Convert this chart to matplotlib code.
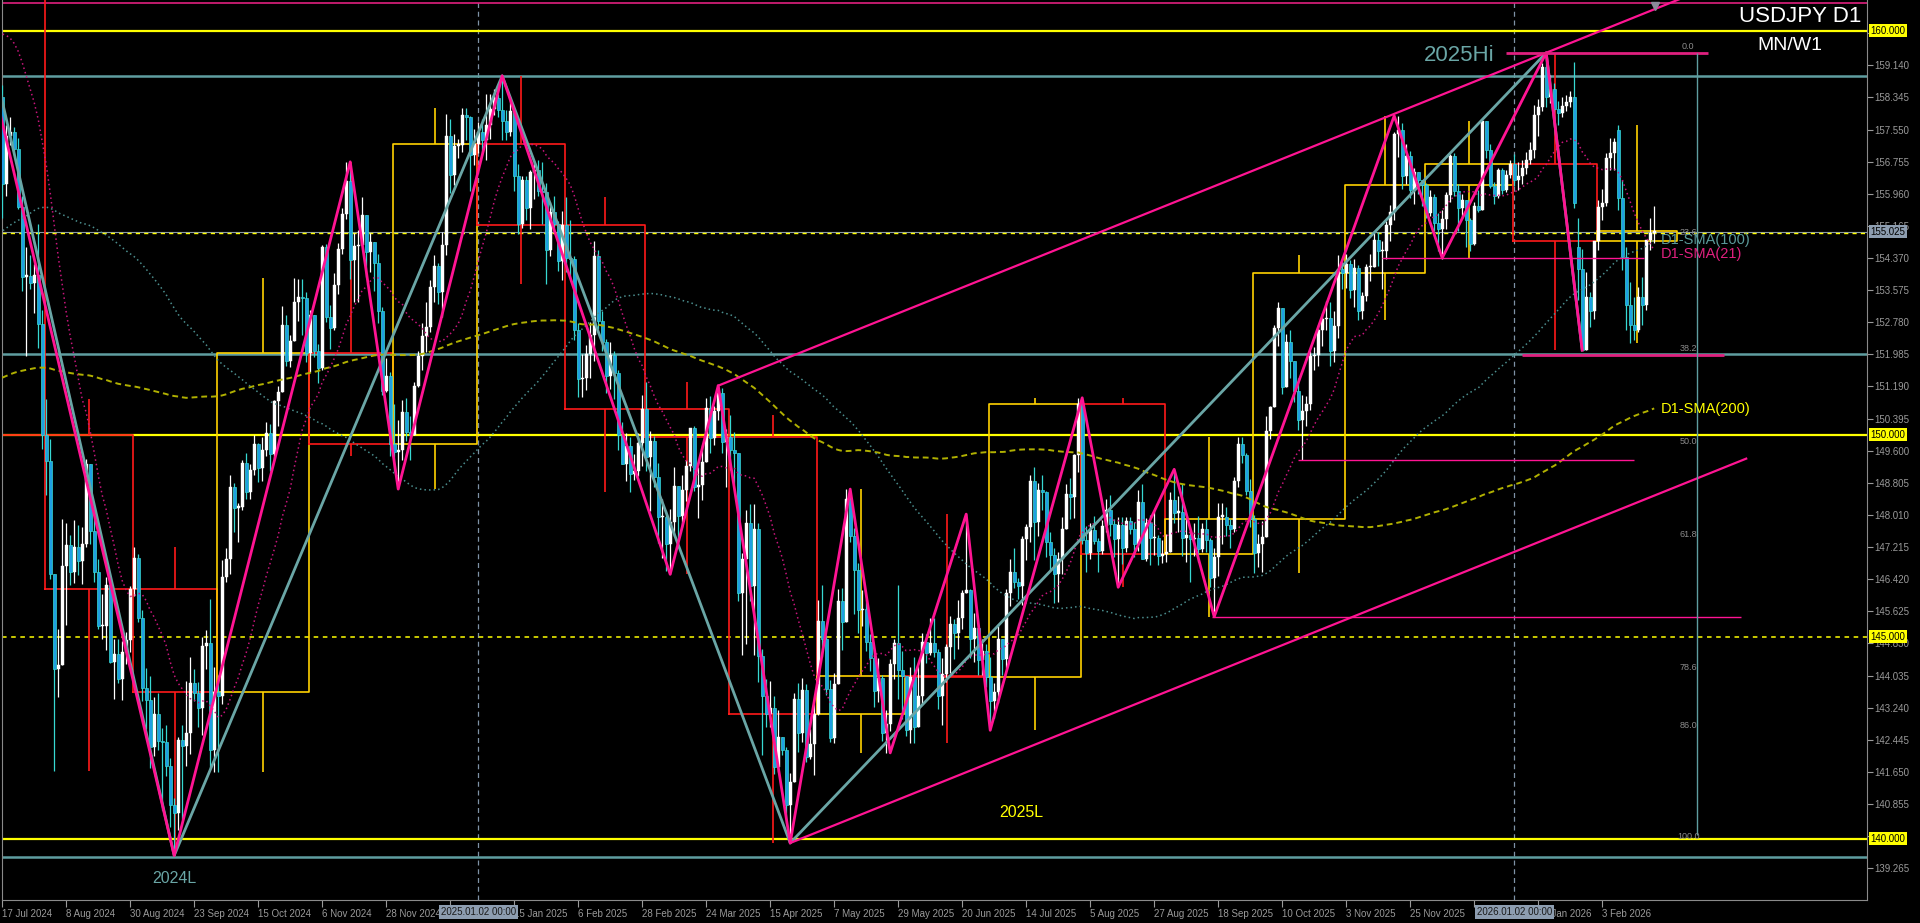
import numpy as np
import pandas as pd
import matplotlib
matplotlib.use("Agg")
import matplotlib.pyplot as plt
import matplotlib.transforms as mtransforms

plt.rcParams['font.family'] = ['Liberation Sans', 'DejaVu Sans']

# daily closes 10 Oct 2023 - 28 Jun 2024, only used to seed the moving averages
pre_close = [
    148.74, 149.13, 149.81, 149.57, 149.51, 149.80, 149.84, 149.88, 149.86, 149.71, 149.89, 150.20, 150.38, 149.57, 149.15, 151.68,
    150.95, 150.42, 149.39, 150.05, 150.38, 150.89, 151.32, 151.51, 151.70, 150.38, 151.36, 150.73, 149.61, 148.34, 148.37, 149.56, 149.57, 149.44, 148.66, 147.45, 147.21, 148.18,
    146.80, 147.19, 147.14, 147.29, 144.13, 144.94, 145.92, 145.38, 142.91, 141.88, 142.17, 142.82, 143.78, 143.54, 142.11, 142.42, 142.42, 141.41, 141.05, 141.02,
    142.00, 143.31, 144.61, 144.60, 144.25, 144.44, 145.73, 145.30, 144.91, 145.12, 147.19, 148.12, 148.14, 148.13, 148.10, 147.96, 147.46, 147.61, 148.12, 147.52, 147.63, 146.91,
    146.43, 148.37, 148.70, 147.93, 148.17, 149.33, 149.28, 149.34, 150.78, 150.57, 149.93, 150.21, 150.14, 150.01, 150.30, 150.50, 150.51, 150.70, 150.53, 150.67, 149.95,
    150.10, 150.51, 149.99, 149.39, 147.86, 147.05, 146.98, 147.69, 147.76, 148.31, 149.05, 149.14, 150.86, 151.27, 151.32, 151.45, 151.34, 151.57, 151.32, 151.30, 151.35,
    151.62, 151.56, 151.71, 151.34, 151.63, 151.86, 151.77, 153.15, 153.25, 153.27, 154.27, 154.60, 154.33, 154.63, 154.62, 154.80, 154.84, 155.35, 155.65, 158.34, 156.37, 157.80,
    155.02, 153.00, 152.97, 153.93, 154.63, 155.51, 155.48, 155.78, 156.22, 156.48, 154.91, 155.41, 155.67, 155.68, 156.24, 156.82, 156.96, 156.99, 156.88, 157.21, 157.61, 156.90, 157.31,
    156.05, 154.11, 155.74, 155.61, 156.75, 157.04, 157.21, 156.69, 157.03, 157.38, 157.74, 157.86, 158.11, 158.95, 159.79, 159.72, 159.69, 160.78, 160.76, 160.88,
]

# daily bars 1 Jul 2024 - 20 Feb 2026, one line per month
close = [
    161.47, 161.45, 161.43, 161.18, 160.77, 160.81, 161.33, 161.66, 159.00, 157.85, 158.06, 158.35, 156.19, 157.38, 157.48, 157.06, 155.62, 153.91, 153.92, 153.74, 153.96, 152.73, 149.98,
    149.35, 146.54, 144.19, 144.30, 146.74, 147.26, 146.61, 147.21, 146.86, 147.29, 149.27, 147.61, 146.59, 145.25, 145.27, 146.28, 144.36, 144.56, 143.95, 144.61, 144.91, 146.17,
    146.94, 145.45, 143.73, 143.42, 142.27, 143.09, 142.41, 142.39, 141.79, 140.84, 140.63, 142.43, 142.30, 142.62, 143.86, 143.60, 143.23, 144.76, 144.83, 142.18, 143.63,
    143.54, 146.47, 146.92, 148.70, 148.19, 148.20, 149.29, 148.58, 149.13, 149.76, 149.17, 149.62, 150.05, 149.52, 150.82, 151.05, 152.72, 151.83, 152.32, 153.28, 153.40, 153.37, 152.03,
    152.96, 152.08, 151.64, 154.63, 152.91, 152.64, 153.71, 154.59, 155.46, 156.28, 154.31, 154.67, 154.69, 155.43, 154.52, 154.77, 154.24, 153.06, 151.09, 151.45, 149.77,
    149.57, 149.61, 150.57, 150.06, 149.99, 151.21, 151.94, 152.45, 152.67, 153.66, 154.18, 153.54, 154.68, 157.40, 156.43, 157.15, 157.16, 157.90, 157.86, 156.91, 157.18,
    157.48, 157.28, 157.67, 158.06, 158.33, 158.04, 157.75, 157.50, 158.01, 156.41, 155.20, 156.30, 155.60, 156.49, 156.55, 156.04, 156.00, 154.57, 155.50, 155.22, 154.30, 155.19,
    154.38, 154.35, 152.60, 151.38, 151.40, 152.00, 152.46, 154.43, 152.80, 152.30, 151.46, 151.97, 151.53, 149.98, 149.27, 149.71, 149.02, 149.10, 149.80, 150.63,
    149.45, 149.84, 148.96, 147.96, 147.97, 147.29, 147.83, 148.72, 147.99, 148.62, 149.23, 150.17, 148.69, 148.74, 149.33, 150.65, 149.91, 150.58, 151.02, 149.82, 149.93,
    149.61, 149.55, 146.09, 146.93, 147.82, 146.25, 147.65, 144.53, 143.52, 143.08, 143.24, 141.76, 142.52, 142.19, 140.83, 141.39, 143.45, 142.61, 143.67, 142.03, 142.33, 143.08,
    145.39, 144.95, 143.70, 142.49, 143.82, 145.88, 145.37, 148.41, 147.49, 146.65, 145.65, 145.68, 144.87, 144.47, 143.66, 143.98, 142.61, 142.84, 144.33, 144.84, 144.17, 144.02,
    142.69, 143.99, 142.77, 143.54, 144.87, 144.59, 144.85, 144.61, 143.54, 144.08, 144.75, 145.31, 145.10, 145.47, 146.09, 146.15, 144.94, 145.21, 144.43, 144.63, 144.00,
    143.41, 143.63, 144.95, 144.45, 146.09, 146.60, 146.34, 146.25, 147.41, 147.71, 148.86, 147.83, 148.62, 148.57, 147.35, 147.01, 146.55, 146.91, 147.66, 148.52, 148.46, 149.49, 150.75,
    147.40, 147.07, 147.63, 147.36, 147.11, 147.73, 148.14, 147.78, 147.42, 147.75, 147.20, 147.85, 147.67, 147.30, 148.34, 146.93, 147.80, 147.43, 147.43, 146.99, 147.05,
    147.10, 148.38, 148.07, 148.08, 147.43, 147.52, 147.41, 147.45, 147.17, 147.67, 147.40, 146.46, 146.96, 147.97, 147.97, 147.75, 147.67, 148.86, 149.77, 149.49, 148.60, 147.90,
    147.07, 147.28, 147.47, 150.10, 150.69, 152.63, 153.14, 151.18, 152.28, 151.83, 151.07, 150.36, 150.58, 150.76, 151.94, 151.98, 152.59, 152.85, 152.89, 152.08, 152.69, 154.11, 154.00,
    154.23, 153.59, 154.13, 153.05, 153.43, 154.14, 154.14, 154.81, 154.54, 154.55, 155.19, 155.52, 157.44, 157.53, 156.40, 156.89, 156.06, 156.49, 156.31, 156.17,
    155.48, 155.88, 155.24, 155.08, 155.33, 155.92, 156.90, 156.03, 155.60, 155.80, 155.30, 154.72, 155.65, 155.55, 157.75, 157.05, 156.15, 155.90, 156.55, 156.05, 156.42, 156.70,
    156.30, 156.40, 156.60, 156.80, 157.05, 157.90, 158.10, 159.10, 158.36, 158.55, 158.05, 157.95, 158.13, 158.24, 158.35, 155.72, 154.11, 152.09, 153.41, 153.07, 154.79,
    155.64, 155.72, 156.84, 156.96, 157.25, 155.85, 154.40, 153.20, 152.70, 152.60, 153.41, 153.21, 154.82, 154.98, 155.03,
]
high = [
    161.74, 161.73, 161.95, 161.50, 161.30, 161.18, 161.66, 161.79, 161.76, 159.45, 158.38, 158.86, 158.65, 157.67, 157.86, 157.61, 157.35, 155.90, 154.65, 154.44, 154.21, 155.22, 153.08,
    150.88, 149.90, 146.40, 145.18, 147.90, 147.82, 147.51, 147.89, 147.77, 147.70, 149.39, 149.07, 148.23, 146.93, 146.06, 146.48, 146.42, 144.95, 144.93, 144.89, 145.12, 146.24,
    147.21, 147.05, 145.66, 144.23, 144.02, 143.50, 143.61, 142.73, 142.80, 142.00, 141.00, 142.51, 142.80, 143.90, 144.49, 144.20, 143.88, 144.99, 145.15, 145.92, 144.25,
    144.05, 146.90, 147.20, 149.00, 148.80, 148.30, 149.37, 149.55, 149.26, 149.98, 149.80, 149.94, 150.32, 150.27, 150.85, 151.20, 153.19, 152.97, 152.47, 153.88, 153.85, 153.84, 153.52,
    153.09, 152.78, 152.23, 154.70, 154.71, 153.20, 153.99, 154.73, 155.60, 156.75, 156.63, 155.00, 155.07, 155.88, 155.26, 155.00, 154.72, 154.47, 153.16, 151.90, 151.55,
    150.75, 150.37, 150.85, 150.90, 150.45, 151.29, 152.07, 152.77, 153.27, 153.82, 154.45, 154.25, 155.02, 157.93, 157.81, 157.44, 157.31, 158.08, 158.09, 157.89, 157.57,
    157.74, 157.80, 158.42, 158.43, 158.55, 158.42, 158.88, 158.04, 158.36, 158.01, 156.70, 156.40, 156.40, 156.56, 156.75, 156.80, 156.75, 156.22, 155.76, 155.90, 155.29, 155.53,
    155.89, 155.30, 154.42, 152.76, 152.00, 152.22, 152.78, 154.80, 154.58, 153.06, 152.37, 152.28, 152.08, 151.60, 150.30, 150.05, 149.95, 149.52, 150.04, 150.99,
    151.29, 150.10, 149.96, 149.30, 148.40, 148.10, 148.16, 149.19, 148.60, 148.99, 149.37, 150.15, 150.20, 149.20, 149.75, 150.90, 150.95, 150.70, 151.21, 151.16, 150.14,
    150.49, 150.06, 149.28, 147.06, 148.14, 148.28, 148.27, 147.82, 144.69, 143.94, 143.90, 143.53, 143.18, 142.40, 142.26, 141.62, 143.60, 143.85, 143.98, 143.83, 142.70, 143.32,
    145.91, 146.27, 145.04, 143.92, 144.10, 146.17, 146.19, 148.65, 148.60, 147.68, 146.83, 146.16, 145.94, 145.06, 144.66, 144.46, 144.04, 143.18, 144.45, 144.95, 146.28, 144.64,
    143.80, 144.24, 144.49, 144.26, 145.08, 145.07, 145.47, 145.46, 144.70, 144.48, 144.82, 145.52, 145.43, 145.91, 146.15, 148.03, 146.18, 145.58, 145.23, 144.95, 144.82,
    144.50, 143.86, 145.30, 144.80, 146.17, 146.92, 147.18, 146.44, 147.49, 147.79, 149.00, 149.19, 148.80, 149.00, 148.60, 147.60, 147.20, 147.10, 147.95, 148.77, 148.92, 149.53, 150.90,
    150.91, 147.74, 147.81, 147.98, 147.44, 147.88, 148.40, 148.50, 147.90, 147.96, 147.95, 147.95, 147.97, 147.83, 148.62, 148.78, 147.94, 148.00, 148.10, 147.52, 147.40,
    147.55, 148.58, 149.14, 148.48, 148.78, 147.90, 147.60, 147.80, 147.98, 147.82, 147.90, 147.45, 147.20, 148.30, 148.30, 148.20, 147.90, 148.95, 149.95, 149.95, 149.55, 148.90,
    148.02, 147.55, 147.85, 150.47, 150.70, 152.70, 153.27, 153.14, 152.50, 152.59, 151.70, 151.40, 150.98, 150.96, 152.08, 152.17, 152.70, 153.00, 153.30, 153.27, 153.05, 154.45, 154.27,
    154.48, 154.31, 154.35, 154.19, 153.52, 154.21, 154.48, 155.04, 155.02, 154.78, 155.28, 155.68, 157.48, 157.89, 157.72, 157.20, 157.02, 156.60, 156.45, 156.25,
    156.22, 156.05, 155.95, 155.48, 155.55, 156.00, 156.95, 156.98, 156.20, 155.95, 155.65, 155.35, 155.75, 156.05, 157.77, 157.70, 157.18, 156.25, 156.60, 156.60, 156.55, 156.80,
    156.95, 156.75, 156.80, 157.00, 157.25, 158.15, 158.30, 159.20, 159.45, 158.90, 158.70, 158.25, 158.35, 158.40, 158.50, 159.23, 155.35, 154.60, 154.03, 153.53, 154.79,
    155.80, 156.09, 156.96, 157.33, 157.33, 157.66, 156.30, 154.65, 153.78, 153.40, 153.66, 153.91, 154.82, 155.35, 155.66,
]
low = [
    160.82, 161.23, 161.05, 161.08, 160.58, 160.48, 160.81, 161.27, 157.44, 157.35, 157.12, 157.98, 155.37, 155.90, 157.16, 156.91, 155.58, 153.56, 151.94, 153.60, 153.02, 152.15, 149.63,
    148.50, 146.42, 141.68, 143.50, 144.30, 145.28, 146.27, 146.32, 146.53, 146.31, 147.21, 147.28, 146.34, 145.18, 144.94, 144.67, 144.34, 143.45, 143.84, 143.43, 144.32, 144.61,
    146.00, 145.36, 143.40, 142.72, 141.75, 142.04, 142.20, 140.71, 141.54, 140.28, 139.58, 140.22, 140.48, 141.80, 142.09, 143.40, 142.75, 142.57, 144.20, 141.75, 141.65,
    141.65, 143.32, 146.34, 146.54, 147.59, 147.35, 148.14, 148.40, 148.40, 149.00, 148.82, 148.84, 149.47, 149.10, 149.40, 150.22, 151.16, 151.70, 151.66, 152.65, 152.82, 152.47, 151.80,
    151.54, 151.91, 151.27, 151.59, 152.79, 152.12, 152.58, 153.48, 154.47, 155.33, 153.84, 153.27, 153.29, 154.72, 153.90, 154.03, 153.55, 152.75, 150.99, 151.05, 149.47,
    149.09, 148.65, 149.38, 149.84, 149.37, 150.02, 151.17, 151.60, 152.04, 152.54, 153.27, 153.22, 152.92, 154.45, 155.98, 156.18, 156.85, 156.99, 157.30, 156.04, 156.66,
    156.97, 156.92, 156.80, 157.32, 157.90, 157.85, 157.28, 157.28, 157.39, 156.03, 154.97, 155.12, 155.30, 155.10, 155.82, 155.91, 155.22, 153.72, 154.42, 155.05, 154.05, 153.83,
    154.03, 153.87, 152.35, 150.94, 150.94, 151.10, 151.40, 151.83, 152.62, 152.08, 151.02, 151.12, 150.88, 149.61, 149.28, 148.86, 148.57, 148.87, 148.98, 149.21,
    149.09, 148.10, 148.70, 147.31, 146.95, 146.62, 146.54, 147.48, 147.41, 147.70, 148.35, 149.10, 148.60, 147.93, 148.39, 149.45, 149.54, 149.73, 150.37, 149.55, 148.70,
    149.13, 148.77, 145.89, 144.55, 144.82, 145.89, 144.54, 143.88, 142.06, 142.75, 142.75, 141.61, 141.64, 142.07, 140.39, 139.89, 141.57, 142.14, 142.40, 141.90, 141.97, 141.57,
    143.07, 144.50, 143.56, 142.38, 142.36, 143.95, 144.66, 145.41, 147.33, 145.56, 145.10, 145.26, 144.63, 144.15, 143.25, 143.38, 142.41, 142.12, 142.66, 143.96, 143.46, 142.97,
    142.55, 142.37, 142.37, 142.83, 143.34, 144.34, 144.55, 144.50, 143.21, 142.80, 143.87, 144.10, 144.45, 144.70, 145.19, 146.07, 144.48, 144.38, 144.06, 144.04, 143.74,
    142.68, 142.99, 143.35, 144.06, 144.22, 145.76, 146.21, 145.93, 145.79, 146.90, 147.35, 146.90, 147.50, 148.14, 146.97, 146.64, 145.84, 145.85, 146.55, 147.72, 147.90, 147.94, 149.07,
    147.30, 146.61, 146.91, 147.28, 146.61, 147.05, 147.60, 147.48, 146.97, 146.22, 146.80, 147.10, 147.54, 146.97, 147.12, 146.91, 146.86, 146.77, 147.01, 146.77, 146.81,
    146.85, 147.10, 147.80, 147.60, 147.00, 146.85, 146.35, 147.00, 146.85, 147.10, 147.10, 146.22, 145.49, 146.50, 147.30, 147.50, 147.20, 147.60, 148.70, 149.30, 148.50, 147.70,
    146.58, 146.72, 146.60, 149.00, 149.90, 150.70, 152.20, 151.00, 151.20, 151.40, 150.80, 150.12, 149.38, 150.20, 150.60, 151.60, 151.70, 152.20, 152.60, 151.70, 151.80, 152.40, 153.60,
    153.62, 153.37, 153.15, 152.83, 152.85, 153.30, 153.80, 154.20, 154.16, 153.61, 154.34, 154.80, 155.30, 156.88, 156.07, 156.20, 155.85, 155.70, 155.95, 155.65,
    155.37, 155.40, 155.05, 154.55, 154.35, 155.10, 155.75, 155.90, 155.05, 155.35, 154.65, 154.55, 154.70, 155.50, 155.55, 156.85, 156.10, 155.70, 155.85, 155.95, 156.00, 156.35,
    156.15, 156.05, 156.20, 156.45, 156.70, 156.85, 157.40, 158.00, 158.10, 158.20, 157.90, 157.65, 157.85, 158.00, 158.10, 155.60, 153.33, 152.09, 152.09, 152.67, 152.87,
    154.57, 155.31, 155.66, 156.55, 156.55, 155.56, 154.07, 152.59, 152.26, 152.35, 152.55, 152.71, 153.08, 154.57, 154.73,
]
# Monday opens that gapped away from Friday's close
gap_open = {"2026-01-26": 154.65, "2026-02-09": 157.55}

# swing points (bar index, price); bar 0 = 17 Jul 2024
zz_pink_idx = [-10, 43, 87, 99, 125, 167, 179, 197, 212, 222, 241, 247, 270, 279, 293, 303, 348, 360, 386, 395]
zz_pink_px = [161.95, 139.58, 156.75, 148.65, 158.88, 146.54, 151.21, 139.89, 148.65, 142.12, 148.03, 142.68,
              150.91, 146.22, 149.14, 145.49, 157.89, 154.37, 159.45, 152.09]
zz_teal_idx = [-10, 43, 125, 197, 386, 395]
zz_teal_px = [162.60, 139.58, 158.88, 139.89, 159.45, 152.09]

yellow_levels = [160.0, 150.0, 140.0]
yellow_dashed = [145.0]
teal_levels = [158.87, 151.985, 139.55]
pink_segments = [(154.37, 345, 410.5), (149.37, 324, 408), (145.49, 302.5, 434.7)]
fib_hi, fib_lo = 159.45, 139.89
fib_ratios = [0.0, 23.6, 38.2, 50.0, 61.8, 78.6, 86.0, 100.0]
last_price = 155.025

BEAR_BODY = '#1e9fe3'
BEAR_EDGE = '#37d8d2'
TEAL = '#5f9ea0'
PINK = '#ff1493'
YEL = '#ffff00'
GRAY = '#9a9a9a'

# bar dates: weekdays without 25 Dec / 1 Jan
days = pd.bdate_range("2024-07-01", "2026-02-20")
days = days[~(((days.month == 12) & (days.day == 25)) | ((days.month == 1) & (days.day == 1)))]
assert len(days) == len(close) == len(high) == len(low), (len(days), len(close), len(high), len(low))
x = np.arange(len(days)) - 12

c = np.array(close)
o = np.r_[pre_close[-1], c[:-1]]
for d, p in gap_open.items():
    o[days.get_loc(pd.Timestamp(d))] = p
h = np.maximum(np.array(high), np.maximum(o, c))
l = np.minimum(np.array(low), np.minimum(o, c))

all_close = pd.Series(pre_close + close)
def sma(n):
    return all_close.rolling(n).mean().to_numpy()[len(pre_close):]

fig = plt.figure(figsize=(19.2, 9.23), dpi=100, facecolor='black')
ax = fig.add_axes([2 / 1920, 23 / 923, 1865 / 1920, 900 / 923])
ax.set_facecolor('black')
ax.set_xlim(-0.05, 466.2)
ax.set_ylim(138.479, 160.756)

# horizontal levels
for p in yellow_levels:
    ax.axhline(p, color=YEL, lw=1.6, zorder=2)
for p in yellow_dashed:
    ax.axhline(p, color=YEL, lw=1.1, ls=(0, (3, 3)), zorder=2)
for p in teal_levels:
    ax.axhline(p, color=TEAL, lw=1.8, zorder=2)
ax.axhline(160.68, color='#e0207f', lw=1.2, zorder=2)
ax.axhline(last_price, color='#8a9aa8', lw=0.8, zorder=2)
ax.axhline(155.0, color=YEL, lw=1.0, ls=(0, (3, 3)), zorder=2)
for vx in [119, 378]:
    ax.axvline(vx, color='#7f92a6', lw=0.9, ls=(0, (4, 3)), zorder=1)

# monthly candles drawn as boxes
df = pd.DataFrame({'x': x, 'o': o, 'h': h, 'l': l, 'c': c}, index=days)
periods = df.index.to_period('M')
last_period = periods[-1]
for per, g in df.groupby(periods):
    mo, mc, mh, ml = g.o.iloc[0], g.c.iloc[-1], g.h.max(), g.l.min()
    x0 = g.x.iloc[0] - 0.2
    nbars = len(g)
    if per == last_period:
        nbars = len(pd.bdate_range(per.start_time, per.end_time))
    x1 = g.x.iloc[0] + nbars - 1 + 0.8
    col = '#ffd200' if mc >= mo else '#ff1a1a'
    top, bot = max(mo, mc), min(mo, mc)
    ax.plot([x0, x1, x1, x0, x0], [bot, bot, top, top, bot], color=col, lw=1.2, zorder=2)
    xm = (x0 + x1) / 2
    ax.vlines(xm, top, mh, color=col, lw=1.2, zorder=2)
    ax.vlines(xm, ml, bot, color=col, lw=1.2, zorder=2)

# candles
up = c >= o
body_lo = np.minimum(o, c)
body_h = np.maximum(np.abs(c - o), 0.03)
ax.vlines(x[up], l[up], h[up], color='white', lw=0.9, zorder=3)
ax.vlines(x[~up], l[~up], h[~up], color=BEAR_EDGE, lw=0.9, zorder=3)
ax.bar(x[up], body_h[up], bottom=body_lo[up], width=0.7, color='white', edgecolor='white', lw=0.3, zorder=3)
ax.bar(x[~up], body_h[~up], bottom=body_lo[~up], width=0.7, color=BEAR_BODY, edgecolor=BEAR_EDGE, lw=0.5, zorder=3)

# moving averages
ax.plot(x, sma(200), color='#b0b000', lw=1.4, ls=(0, (3, 2)), zorder=4)
ax.plot(x, sma(100), color='#4c8f8f', lw=1.1, ls=(0, (1, 2)), zorder=4)
ax.plot(x, sma(21), color='#c8167c', lw=1.1, ls=(0, (1, 2)), zorder=4)

# zigzags and channel
ax.plot(zz_teal_idx, zz_teal_px, color='#6aa6a6', lw=2.0, zorder=5)
ax.plot(zz_pink_idx, zz_pink_px, color=PINK, lw=2.0, zorder=5)
slope = (zz_pink_px[18] - zz_pink_px[6]) / (zz_pink_idx[18] - zz_pink_idx[6])
ax.plot([179, 430], [151.21, 151.21 + slope * (430 - 179)], color=PINK, lw=1.6, zorder=5)
ax.plot([197, 436], [139.89, 139.89 + slope * (436 - 197)], color=PINK, lw=1.6, zorder=5)
ax.plot([413.2], [160.6], marker='v', ms=6, color='#8a8a9a', zorder=6, clip_on=False)
for p, a, b in pink_segments:
    ax.hlines(p, a, b, color=PINK, lw=1.0, zorder=5)

# fibonacci retracement
ax.hlines(fib_hi, 376, 426.5, color='#e0207f', lw=2.0, zorder=5)
ax.hlines(fib_hi - 0.382 * (fib_hi - fib_lo), 380, 430.5, color='#e0207f', lw=2.0, zorder=5)
ax.vlines(423.7, fib_lo + 0.2, fib_hi, color=TEAL, lw=1.0, zorder=5)
for r in fib_ratios:
    p = fib_hi - r / 100 * (fib_hi - fib_lo)
    ax.annotate(f"{r:.1f}", (421.5, p), xytext=(0, 1.5), textcoords='offset points',
                ha='center', va='bottom', fontsize=6.5, color='#8c8c8c', zorder=6)

# texts
ax.text(414.7, 154.82, 'D1-SMA(100)', color='#5a9a9a', fontsize=10.5, va='center', zorder=7)
ax.text(414.7, 154.48, 'D1-SMA(21)', color='#e0207f', fontsize=10.5, va='center', zorder=7)
ax.text(414.7, 150.62, 'D1-SMA(200)', color=YEL, fontsize=10.5, va='center', zorder=7)
ax.text(364.2, 159.37, '2025Hi', color='#6aa6a6', fontsize=16, ha='center', va='center', zorder=7)
ax.text(43, 139.02, '2024L', color='#6aa6a6', fontsize=11.5, ha='center', va='center', zorder=7)
ax.text(254.7, 140.64, '2025L', color=YEL, fontsize=11.5, ha='center', va='center', zorder=7)
ax.text(0.997, 0.982, 'USDJPY D1', transform=ax.transAxes, color='white', fontsize=16, ha='right', va='center', zorder=7)
ax.text(0.9585, 0.949, 'MN/W1', transform=ax.transAxes, color='white', fontsize=14, ha='center', va='center', zorder=7)

# axes, ticks
for s in ['left', 'bottom', 'right']:
    ax.spines[s].set_color('#8a8a8a')
ax.spines['top'].set_visible(False)
ax.yaxis.tick_right()
yt = [139.265 + 0.795 * k for k in range(27)]
ax.set_yticks(yt)
# labels fully covered by the highlighted level boxes are left blank
hidden_y = {'140.060', '159.935'}
ax.set_yticklabels([f"{v:.3f}" if f"{v:.3f}" not in hidden_y else '' for v in yt])
ax.tick_params(axis='y', colors=GRAY, labelsize=7, length=4, pad=1.5, width=0.8)
xt = list(range(0, 401, 16))
hidden_x = {112, 368}
ax.set_xticks(xt)
ax.set_xticklabels(['' if i in hidden_x else f"{days[i + 12].day} {days[i + 12].strftime('%b %Y')}" for i in xt],
                   ha='left')
ax.tick_params(axis='x', colors=GRAY, labelsize=7, length=5, pad=1.5, width=0.8)

xb = mtransforms.blended_transform_factory(ax.transData, ax.transAxes)
for vx, s in [(119, '2025.01.02 00:00'), (378, '2026.01.02 00:00')]:
    ax.text(vx, -0.0135, s, transform=xb, ha='center', va='center', fontsize=7, color='#1a1a1a',
            bbox=dict(boxstyle='square,pad=0.2', fc='#8d9db0', ec='none'), zorder=10, clip_on=False)
yb = mtransforms.blended_transform_factory(ax.transAxes, ax.transData)
for p in [160.0, 150.0, 145.0, 140.0]:
    ax.text(1.0018, p, f"{p:.3f}", transform=yb, ha='left', va='center', fontsize=7, color='black',
            bbox=dict(boxstyle='square,pad=0.15', fc=YEL, ec='none'), zorder=10, clip_on=False)
ax.text(1.0018, last_price, f"{last_price:.3f}", transform=yb, ha='left', va='center', fontsize=7, color='black',
        bbox=dict(boxstyle='square,pad=0.15', fc='#8d9db0', ec='none'), zorder=10, clip_on=False)

fig.savefig('out.png', dpi=100, facecolor='black')
